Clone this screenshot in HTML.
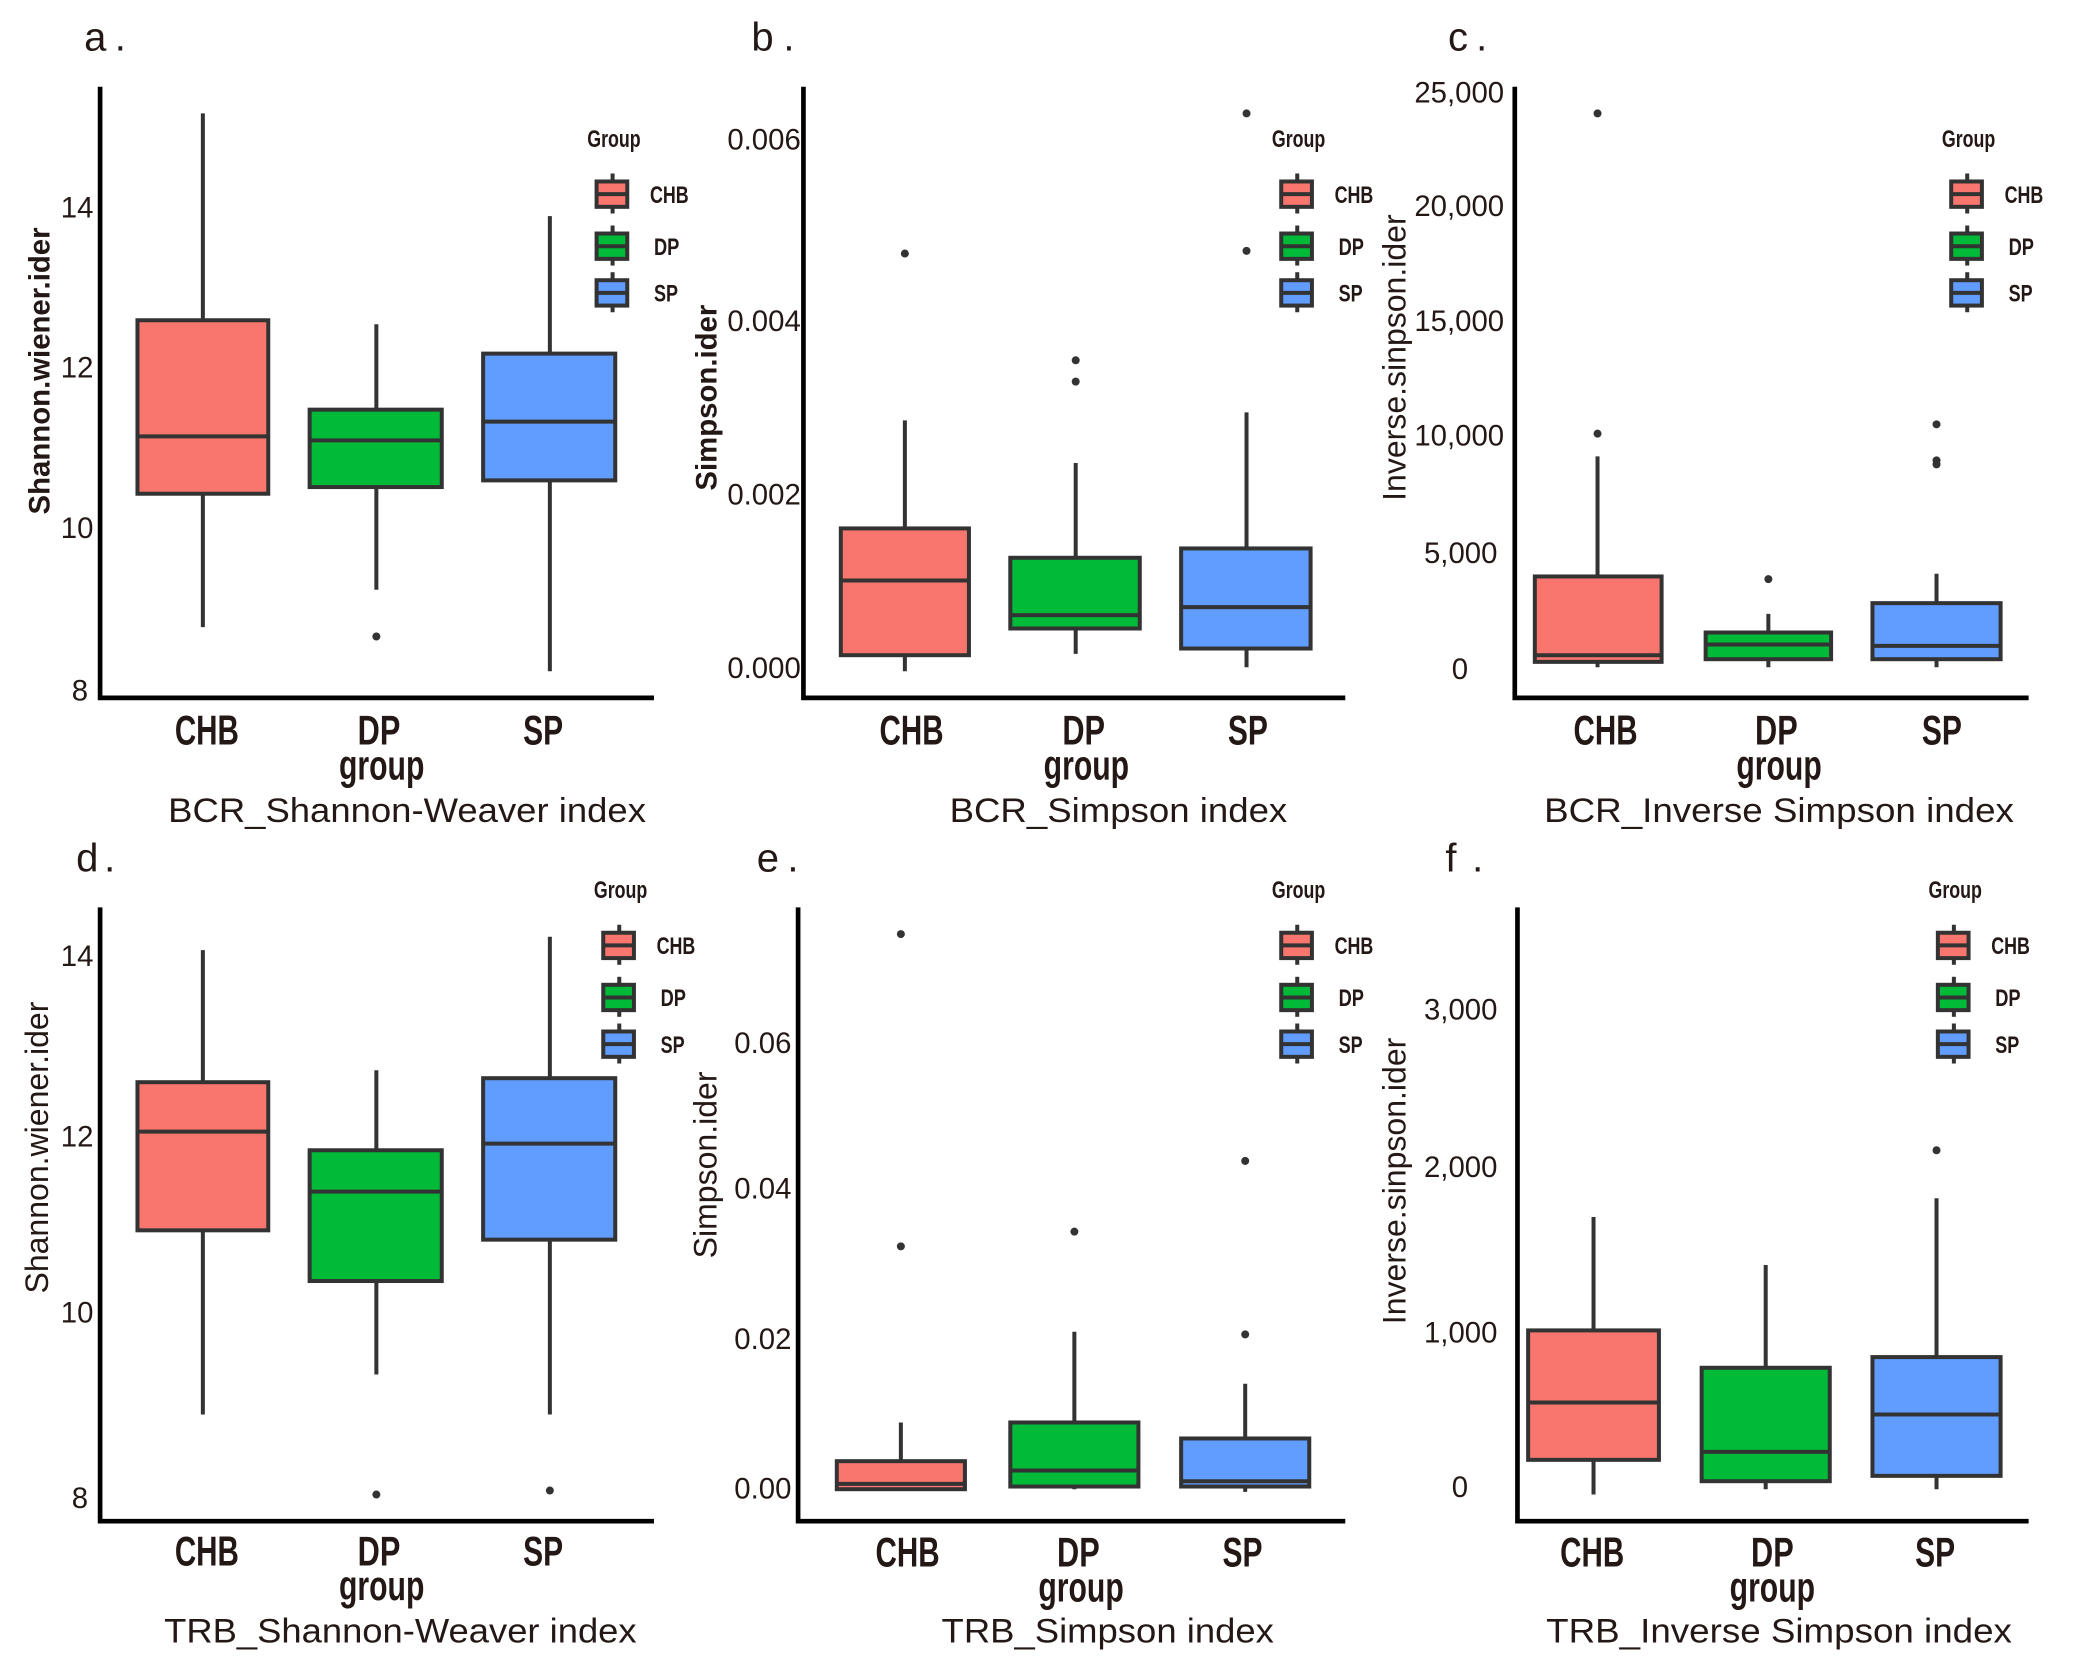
<!DOCTYPE html>
<html><head><meta charset="utf-8"><style>
html,body{margin:0;padding:0;background:#fff;}
svg{display:block;}
text{font-family:"Liberation Sans",sans-serif;fill:#231815;}
.n{font-family:"Liberation Sans Narrow","Liberation Sans",sans-serif;font-weight:bold;}
.tk{font-size:22px;text-anchor:end;}
.xl{font-size:31px;text-anchor:middle;}
.ttl{font-size:26px;text-anchor:middle;}
.lg{font-size:18px;}
.pl{font-size:30px;}
.b rect{stroke:#333;stroke-width:3;}
.b line{stroke:#333;stroke-width:3;}
.ax{stroke:#000;stroke-width:3.5;fill:none;}
</style></head><body>
<svg width="2082" height="1656" viewBox="0 0 1560 1241" preserveAspectRatio="none" xmlns="http://www.w3.org/2000/svg">
<defs>
<g id="leg">
 <text class="n lg" x="-7" y="0" textLength="40" lengthAdjust="spacingAndGlyphs">Group</text>
 <g class="b">
 <line x1="12" y1="20" x2="12" y2="50"/><rect x="0" y="26" width="23" height="19" fill="#F8766D"/><line x1="0" y1="35.5" x2="23" y2="35.5"/>
 <line x1="12" y1="59" x2="12" y2="89"/><rect x="0" y="65" width="23" height="19" fill="#00BA38"/><line x1="0" y1="74.5" x2="23" y2="74.5"/>
 <line x1="12" y1="94" x2="12" y2="124"/><rect x="0" y="100" width="23" height="19" fill="#619CFF"/><line x1="0" y1="109.5" x2="23" y2="109.5"/>
 </g>
 <text class="n lg" x="40" y="42" textLength="29" lengthAdjust="spacingAndGlyphs">CHB</text>
 <text class="n lg" x="43" y="81" textLength="19" lengthAdjust="spacingAndGlyphs">DP</text>
 <text class="n lg" x="43" y="116" textLength="18" lengthAdjust="spacingAndGlyphs">SP</text>
</g>
</defs>

<!-- Panel a -->
<text class="pl" x="63" y="38">a</text><text class="pl" x="86" y="38" font-size="16">.</text>
<path class="ax" d="M75 65 V523 H490"/>
<text class="tk" x="70" y="163">14</text><text class="tk" x="70" y="283">12</text><text class="tk" x="70" y="403">10</text><text class="tk" x="66" y="525">8</text>
<text font-size="22" font-weight="bold" transform="translate(37,278) rotate(-90)" text-anchor="middle">Shannon.wiener.ider</text>
<g class="b">
<line x1="152" y1="85" x2="152" y2="470"/><rect x="103" y="240" width="98" height="130" fill="#F8766D"/><line x1="103" y1="327" x2="201" y2="327"/>
<line x1="282" y1="243" x2="282" y2="442"/><rect x="232" y="307" width="99" height="58" fill="#00BA38"/><line x1="232" y1="330" x2="331" y2="330"/>
<line x1="412" y1="162" x2="412" y2="503"/><rect x="362" y="265" width="99" height="95" fill="#619CFF"/><line x1="362" y1="316" x2="461" y2="316"/>
</g>
<circle cx="282" cy="477" r="3" fill="#333"/>
<text class="n xl" x="155" y="558" textLength="48" lengthAdjust="spacingAndGlyphs">CHB</text><text class="n xl" x="284" y="558" textLength="32" lengthAdjust="spacingAndGlyphs">DP</text><text class="n xl" x="407" y="558" textLength="30" lengthAdjust="spacingAndGlyphs">SP</text>
<text class="n xl" x="286" y="584" textLength="64" lengthAdjust="spacingAndGlyphs">group</text>
<text class="ttl" x="305" y="616" textLength="358" lengthAdjust="spacingAndGlyphs">BCR_Shannon-Weaver index</text>
<use href="#leg" x="447" y="110"/>

<!-- Panel b -->
<text class="pl" x="563" y="38">b</text><text class="pl" x="587" y="38" font-size="16">.</text>
<path class="ax" d="M602 65 V523 H1008"/>
<text class="tk" x="600" y="112">0.006</text><text class="tk" x="600" y="248">0.004</text><text class="tk" x="600" y="378">0.002</text><text class="tk" x="600" y="508">0.000</text>
<text font-size="22" font-weight="bold" transform="translate(537,298) rotate(-90)" text-anchor="middle">Simpson.ider</text>
<g class="b">
<line x1="678" y1="315" x2="678" y2="503"/><rect x="630" y="396" width="96" height="95" fill="#F8766D"/><line x1="630" y1="435" x2="726" y2="435"/>
<line x1="806" y1="347" x2="806" y2="490"/><rect x="757" y="418" width="97" height="53" fill="#00BA38"/><line x1="757" y1="461" x2="854" y2="461"/>
<line x1="934" y1="309" x2="934" y2="500"/><rect x="885" y="411" width="97" height="75" fill="#619CFF"/><line x1="885" y1="455" x2="982" y2="455"/>
</g>
<g fill="#333"><circle cx="678" cy="190" r="3"/><circle cx="806" cy="270" r="3"/><circle cx="806" cy="286" r="3"/><circle cx="934" cy="85" r="3"/><circle cx="934" cy="188" r="3"/></g>
<text class="n xl" x="683" y="558" textLength="48" lengthAdjust="spacingAndGlyphs">CHB</text><text class="n xl" x="812" y="558" textLength="32" lengthAdjust="spacingAndGlyphs">DP</text><text class="n xl" x="935" y="558" textLength="30" lengthAdjust="spacingAndGlyphs">SP</text>
<text class="n xl" x="814" y="584" textLength="64" lengthAdjust="spacingAndGlyphs">group</text>
<text class="ttl" x="838" y="616" textLength="253" lengthAdjust="spacingAndGlyphs">BCR_Simpson index</text>
<use href="#leg" x="960" y="110"/>

<!-- Panel c -->
<text class="pl" x="1085" y="38">c</text><text class="pl" x="1106" y="38" font-size="16">.</text>
<path class="ax" d="M1135 65 V523 H1520"/>
<text class="tk" x="1127" y="77">25,000</text><text class="tk" x="1127" y="162">20,000</text><text class="tk" x="1127" y="248">15,000</text><text class="tk" x="1127" y="334">10,000</text><text class="tk" x="1122" y="422">5,000</text><text class="tk" x="1100" y="509">0</text>
<text font-size="24" transform="translate(1053,268) rotate(-90)" text-anchor="middle">Inverse.sinpson.ider</text>
<g class="b">
<line x1="1197" y1="342" x2="1197" y2="500"/><rect x="1150" y="432" width="95" height="64" fill="#F8766D"/><line x1="1150" y1="491" x2="1245" y2="491"/>
<line x1="1325" y1="460" x2="1325" y2="500"/><rect x="1278" y="474" width="94" height="20" fill="#00BA38"/><line x1="1278" y1="483" x2="1372" y2="483"/>
<line x1="1451" y1="430" x2="1451" y2="500"/><rect x="1403" y="452" width="96" height="42" fill="#619CFF"/><line x1="1403" y1="484" x2="1499" y2="484"/>
</g>
<g fill="#333"><circle cx="1197" cy="85" r="3"/><circle cx="1197" cy="325" r="3"/><circle cx="1325" cy="434" r="3"/><circle cx="1451" cy="318" r="3"/><circle cx="1451" cy="345" r="3"/><circle cx="1451" cy="348" r="3"/></g>
<text class="n xl" x="1203" y="558" textLength="48" lengthAdjust="spacingAndGlyphs">CHB</text><text class="n xl" x="1331" y="558" textLength="32" lengthAdjust="spacingAndGlyphs">DP</text><text class="n xl" x="1455" y="558" textLength="30" lengthAdjust="spacingAndGlyphs">SP</text>
<text class="n xl" x="1333" y="584" textLength="64" lengthAdjust="spacingAndGlyphs">group</text>
<text class="ttl" x="1333" y="616" textLength="352" lengthAdjust="spacingAndGlyphs">BCR_Inverse Simpson index</text>
<use href="#leg" x="1462" y="110"/>

<!-- Panel d -->
<text class="pl" x="57" y="653">d</text><text class="pl" x="78" y="653" font-size="16">.</text>
<path class="ax" d="M75 680 V1140 H490"/>
<text class="tk" x="70" y="724">14</text><text class="tk" x="70" y="859">12</text><text class="tk" x="70" y="991">10</text><text class="tk" x="66" y="1130">8</text>
<text font-size="24" transform="translate(36,860) rotate(-90)" text-anchor="middle">Shannon.wiener.ider</text>
<g class="b">
<line x1="152" y1="712" x2="152" y2="1060"/><rect x="103" y="811" width="98" height="111" fill="#F8766D"/><line x1="103" y1="848" x2="201" y2="848"/>
<line x1="282" y1="802" x2="282" y2="1030"/><rect x="232" y="862" width="99" height="98" fill="#00BA38"/><line x1="232" y1="893" x2="331" y2="893"/>
<line x1="412" y1="702" x2="412" y2="1060"/><rect x="362" y="808" width="99" height="121" fill="#619CFF"/><line x1="362" y1="857" x2="461" y2="857"/>
</g>
<g fill="#333"><circle cx="282" cy="1120" r="3"/><circle cx="412" cy="1117" r="3"/></g>
<text class="n xl" x="155" y="1173" textLength="48" lengthAdjust="spacingAndGlyphs">CHB</text><text class="n xl" x="284" y="1173" textLength="32" lengthAdjust="spacingAndGlyphs">DP</text><text class="n xl" x="407" y="1173" textLength="30" lengthAdjust="spacingAndGlyphs">SP</text>
<text class="n xl" x="286" y="1199" textLength="64" lengthAdjust="spacingAndGlyphs">group</text>
<text class="ttl" x="300" y="1231" textLength="354" lengthAdjust="spacingAndGlyphs">TRB_Shannon-Weaver index</text>
<use href="#leg" x="452" y="673"/>

<!-- Panel e -->
<text class="pl" x="567" y="653">e</text><text class="pl" x="590" y="653" font-size="16">.</text>
<path class="ax" d="M598 680 V1140 H1008"/>
<text class="tk" x="593" y="789">0.06</text><text class="tk" x="593" y="898">0.04</text><text class="tk" x="593" y="1011">0.02</text><text class="tk" x="593" y="1123">0.00</text>
<text font-size="24" transform="translate(537,873) rotate(-90)" text-anchor="middle">Simpson.ider</text>
<g class="b">
<line x1="675" y1="1066" x2="675" y2="1116"/><rect x="627" y="1095" width="96" height="21" fill="#F8766D"/><line x1="627" y1="1112" x2="723" y2="1112"/>
<line x1="805" y1="998" x2="805" y2="1116"/><rect x="757" y="1066" width="96" height="48" fill="#00BA38"/><line x1="757" y1="1102" x2="853" y2="1102"/>
<line x1="933" y1="1037" x2="933" y2="1118"/><rect x="885" y="1078" width="96" height="36" fill="#619CFF"/><line x1="885" y1="1110" x2="981" y2="1110"/>
</g>
<g fill="#333"><circle cx="675" cy="700" r="3"/><circle cx="675" cy="934" r="3"/><circle cx="805" cy="923" r="3"/><circle cx="933" cy="870" r="3"/><circle cx="933" cy="1000" r="3"/></g>
<text class="n xl" x="680" y="1174" textLength="48" lengthAdjust="spacingAndGlyphs">CHB</text><text class="n xl" x="808" y="1174" textLength="32" lengthAdjust="spacingAndGlyphs">DP</text><text class="n xl" x="931" y="1174" textLength="30" lengthAdjust="spacingAndGlyphs">SP</text>
<text class="n xl" x="810" y="1200" textLength="64" lengthAdjust="spacingAndGlyphs">group</text>
<text class="ttl" x="830" y="1231" textLength="249" lengthAdjust="spacingAndGlyphs">TRB_Simpson index</text>
<use href="#leg" x="960" y="673"/>

<!-- Panel f -->
<text class="pl" x="1083" y="653">f</text><text class="pl" x="1103" y="653" font-size="16">.</text>
<path class="ax" d="M1137 680 V1140 H1520"/>
<text class="tk" x="1122" y="764">3,000</text><text class="tk" x="1122" y="882">2,000</text><text class="tk" x="1122" y="1006">1,000</text><text class="tk" x="1100" y="1122">0</text>
<text font-size="24" transform="translate(1053,885) rotate(-90)" text-anchor="middle">Inverse.sinpson.ider</text>
<g class="b">
<line x1="1194" y1="912" x2="1194" y2="1120"/><rect x="1145" y="997" width="98" height="97" fill="#F8766D"/><line x1="1145" y1="1051" x2="1243" y2="1051"/>
<line x1="1323" y1="948" x2="1323" y2="1116"/><rect x="1275" y="1025" width="96" height="85" fill="#00BA38"/><line x1="1275" y1="1088" x2="1371" y2="1088"/>
<line x1="1451" y1="898" x2="1451" y2="1116"/><rect x="1403" y="1017" width="96" height="89" fill="#619CFF"/><line x1="1403" y1="1060" x2="1499" y2="1060"/>
</g>
<circle cx="1451" cy="862" r="3" fill="#333"/>
<text class="n xl" x="1193" y="1174" textLength="48" lengthAdjust="spacingAndGlyphs">CHB</text><text class="n xl" x="1328" y="1174" textLength="32" lengthAdjust="spacingAndGlyphs">DP</text><text class="n xl" x="1450" y="1174" textLength="30" lengthAdjust="spacingAndGlyphs">SP</text>
<text class="n xl" x="1328" y="1200" textLength="64" lengthAdjust="spacingAndGlyphs">group</text>
<text class="ttl" x="1333" y="1231" textLength="349" lengthAdjust="spacingAndGlyphs">TRB_Inverse Simpson index</text>
<use href="#leg" x="1452" y="673"/>
</svg>
</body></html>
